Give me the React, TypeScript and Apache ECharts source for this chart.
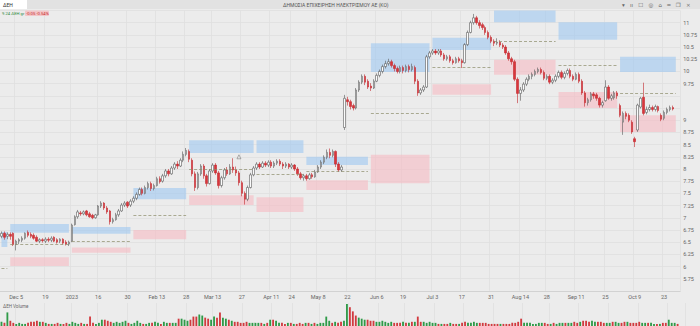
import React, { useEffect, useRef } from "react";
import * as echarts from "echarts";

// ---------- categories (Athens trading days) ----------
const firstDay = "2022-11-28";
const dayCount = 232;
const holidays = ["2022-12-26", "2023-01-06", "2023-02-27", "2023-04-10", "2023-04-14", "2023-04-17", "2023-05-01", "2023-06-05", "2023-08-15"];

function buildDates(): string[] {
  const out: string[] = [];
  const d = new Date(firstDay + "T00:00:00Z");
  while (out.length < dayCount) {
    const s = d.toISOString().slice(0, 10);
    const wd = d.getUTCDay();
    if (wd !== 0 && wd !== 6 && holidays.indexOf(s) < 0) out.push(s);
    d.setUTCDate(d.getUTCDate() + 1);
  }
  return out;
}
const dates = buildDates();

const tickDates = ["2022-12-05", "2022-12-19", "2023-01-02", "2023-01-16", "2023-01-30", "2023-02-13", "2023-02-28", "2023-03-13", "2023-03-27", "2023-04-11", "2023-04-24", "2023-05-08", "2023-05-22", "2023-06-06", "2023-06-19", "2023-07-03", "2023-07-17", "2023-07-31", "2023-08-14", "2023-08-28", "2023-09-11", "2023-09-25", "2023-10-09", "2023-10-23"];
const tickLabels = ["Dec 5", "19", "2023", "16", "30", "Feb 13", "28", "Mar 13", "27", "Apr 11", "24", "May 8", "22", "Jun 6", "19", "Jul 3", "17", "31", "Aug 14", "28", "Sep 11", "25", "Oct 9", "23"];

// ---------- prices: [open, close, low, high] ----------
const ohlc: number[][] = [
  [6.62, 6.68, 6.58, 6.72], [6.68, 6.6, 6.55, 6.72], [6.62, 6.66, 6.56, 6.7], [6.66, 6.62, 6.55, 6.7], [6.68, 6.45, 6.42, 6.7],
  [6.45, 6.52, 6.33, 6.55], [6.52, 6.55, 6.46, 6.58], [6.54, 6.58, 6.5, 6.62], [6.58, 6.68, 6.55, 6.7], [6.7, 6.64, 6.6, 6.74],
  [6.66, 6.62, 6.58, 6.7], [6.64, 6.58, 6.55, 6.68], [6.6, 6.52, 6.5, 6.64], [6.52, 6.55, 6.48, 6.58], [6.55, 6.53, 6.49, 6.58],
  [6.52, 6.56, 6.48, 6.6], [6.56, 6.54, 6.5, 6.6], [6.54, 6.58, 6.5, 6.62], [6.6, 6.52, 6.5, 6.62], [6.55, 6.5, 6.47, 6.58],
  [6.52, 6.56, 6.48, 6.58], [6.56, 6.48, 6.45, 6.58], [6.5, 6.46, 6.43, 6.54], [6.46, 6.5, 6.42, 6.53],
  [6.52, 6.85, 6.5, 6.88], [6.86, 7.02, 6.84, 7.05], [7.02, 7.12, 6.98, 7.16], [7.1, 7.08, 7.04, 7.14], [7.08, 7.12, 7.05, 7.15],
  [7.14, 7.06, 7.03, 7.16], [7.08, 7.02, 7.0, 7.12], [7.05, 7.0, 6.97, 7.08], [7.0, 7.06, 6.98, 7.08], [7.06, 7.24, 7.04, 7.26],
  [7.24, 7.3, 7.2, 7.34], [7.3, 7.2, 7.16, 7.32], [7.2, 7.12, 7.08, 7.24], [7.14, 6.92, 6.86, 7.16], [6.92, 6.96, 6.88, 7.0],
  [6.96, 7.06, 6.94, 7.1], [7.06, 7.14, 7.02, 7.18], [7.14, 7.26, 7.12, 7.3], [7.26, 7.3, 7.22, 7.34], [7.32, 7.24, 7.2, 7.34],
  [7.26, 7.34, 7.22, 7.38], [7.34, 7.4, 7.3, 7.44],
  [7.4, 7.48, 7.36, 7.52], [7.48, 7.58, 7.45, 7.62], [7.58, 7.5, 7.46, 7.62], [7.5, 7.62, 7.48, 7.66], [7.62, 7.7, 7.58, 7.74],
  [7.7, 7.6, 7.55, 7.74], [7.6, 7.66, 7.56, 7.7], [7.66, 7.8, 7.64, 7.84], [7.8, 7.74, 7.7, 7.85], [7.75, 7.86, 7.72, 7.9],
  [7.86, 7.96, 7.82, 8.0], [7.96, 7.9, 7.85, 8.0], [7.9, 8.02, 7.88, 8.06], [8.02, 8.1, 7.98, 8.14], [8.1, 8.06, 8.0, 8.16],
  [8.06, 8.18, 8.04, 8.22], [8.18, 8.3, 8.14, 8.36], [8.3, 8.38, 8.26, 8.43],
  [8.36, 8.2, 8.14, 8.4], [8.18, 7.9, 7.85, 8.22], [7.9, 7.62, 7.55, 7.95], [7.62, 7.9, 7.58, 7.94], [7.9, 8.06, 7.86, 8.1],
  [8.06, 7.86, 7.8, 8.1], [7.86, 7.7, 7.64, 7.9], [7.7, 7.96, 7.68, 8.0], [7.96, 8.08, 7.92, 8.12], [8.08, 7.92, 7.88, 8.12],
  [7.92, 7.66, 7.6, 7.96], [7.66, 7.82, 7.62, 7.86], [7.82, 7.98, 7.78, 8.02], [7.98, 7.9, 7.86, 8.04], [7.9, 8.04, 7.88, 8.1],
  [8.04, 7.98, 7.92, 8.22], [7.98, 7.92, 7.86, 8.05], [7.92, 7.72, 7.66, 7.96], [7.72, 7.5, 7.44, 7.76], [7.5, 7.38, 7.27, 7.54],
  [7.38, 7.62, 7.34, 7.66], [7.62, 7.88, 7.6, 7.92], [7.88, 8.02, 7.85, 8.06],
  [8.02, 8.1, 7.98, 8.14], [8.1, 8.04, 8.0, 8.14], [8.04, 8.12, 8.02, 8.16], [8.12, 8.08, 8.04, 8.16], [8.08, 8.14, 8.04, 8.18],
  [8.14, 8.06, 8.02, 8.18], [8.06, 8.12, 8.02, 8.16], [8.12, 8.16, 8.08, 8.2], [8.16, 8.1, 8.06, 8.2], [8.1, 8.06, 8.0, 8.14],
  [8.06, 8.1, 8.02, 8.14], [8.1, 8.04, 8.0, 8.12], [8.04, 8.08, 8.0, 8.12], [8.08, 8.0, 7.96, 8.1], [8.0, 7.9, 7.86, 8.04],
  [7.9, 7.82, 7.78, 7.94], [7.82, 7.86, 7.76, 7.9],
  [7.86, 7.8, 7.76, 7.9], [7.8, 7.88, 7.78, 7.92], [7.88, 7.84, 7.8, 7.92], [7.84, 7.94, 7.82, 7.98], [7.94, 8.04, 7.92, 8.08],
  [8.04, 8.14, 8.0, 8.18], [8.14, 8.24, 8.1, 8.28], [8.24, 8.34, 8.2, 8.4], [8.34, 8.28, 8.22, 8.42], [8.28, 8.36, 8.24, 8.4],
  [8.36, 8.1, 8.04, 8.38], [8.1, 7.98, 7.94, 8.14], [7.98, 8.04, 7.94, 8.08], [8.85, 9.45, 8.8, 9.52], [9.42, 9.38, 9.3, 9.48],
  [9.38, 9.28, 9.22, 9.42], [9.3, 9.25, 9.2, 9.34], [9.25, 9.62, 9.22, 9.66], [9.62, 9.78, 9.58, 9.82], [9.78, 9.9, 9.74, 9.94],
  [9.9, 9.78, 9.72, 9.94], [9.8, 9.68, 9.64, 9.84],
  [9.7, 9.66, 9.6, 9.76], [9.66, 9.8, 9.64, 9.84], [9.8, 9.92, 9.78, 9.96], [9.92, 10.0, 9.88, 10.04], [10.0, 10.1, 9.96, 10.14],
  [10.1, 10.16, 10.06, 10.22], [10.16, 10.2, 10.12, 10.26], [10.2, 10.12, 10.08, 10.24], [10.12, 10.06, 10.0, 10.16], [10.06, 10.0, 9.96, 10.1],
  [10.0, 10.08, 9.96, 10.12], [10.08, 10.02, 9.96, 10.12], [10.02, 10.1, 9.98, 10.14], [10.1, 10.04, 9.98, 10.14], [10.04, 10.1, 10.0, 10.16],
  [10.08, 9.8, 9.74, 10.12], [9.8, 9.56, 9.5, 9.84], [9.56, 9.62, 9.52, 9.66], [9.62, 9.68, 9.58, 9.72], [9.68, 10.3, 9.66, 10.34],
  [10.3, 10.38, 10.26, 10.42],
  [10.38, 10.42, 10.34, 10.46], [10.42, 10.38, 10.34, 10.46], [10.38, 10.42, 10.34, 10.46], [10.42, 10.34, 10.3, 10.46], [10.34, 10.26, 10.22, 10.38],
  [10.26, 10.3, 10.22, 10.34], [10.3, 10.22, 10.18, 10.34], [10.22, 10.18, 10.14, 10.26], [10.18, 10.26, 10.16, 10.3], [10.26, 10.22, 10.18, 10.3],
  [10.22, 10.18, 10.07, 10.26], [10.18, 10.55, 10.16, 10.58], [10.55, 10.8, 10.52, 10.84], [10.8, 11.0, 10.78, 11.04], [11.0, 11.1, 10.96, 11.18],
  [11.1, 11.0, 10.96, 11.14], [11.0, 10.94, 10.88, 11.05], [10.96, 10.9, 10.85, 11.0], [10.9, 10.8, 10.75, 10.94], [10.8, 10.7, 10.66, 10.84],
  [10.7, 10.62, 10.58, 10.74], [10.62, 10.58, 10.52, 10.66],
  [10.58, 10.6, 10.54, 10.68], [10.6, 10.54, 10.5, 10.64], [10.54, 10.5, 10.46, 10.58], [10.5, 10.38, 10.34, 10.54], [10.38, 10.26, 10.22, 10.42],
  [10.26, 10.2, 10.14, 10.3], [10.2, 9.84, 9.8, 10.24], [9.84, 9.55, 9.35, 9.88], [9.55, 9.62, 9.4, 9.68], [9.62, 9.74, 9.58, 9.78],
  [9.74, 9.84, 9.7, 9.88], [9.84, 9.9, 9.8, 9.94], [9.9, 9.94, 9.84, 9.98], [9.94, 10.0, 9.9, 10.04], [10.0, 10.04, 9.96, 10.08],
  [10.04, 9.98, 9.94, 10.08], [9.98, 9.86, 9.82, 10.02], [9.86, 9.9, 9.82, 9.94], [9.9, 9.78, 9.74, 9.94], [9.78, 9.82, 9.74, 9.86],
  [9.82, 9.9, 9.78, 9.94], [9.9, 9.98, 9.86, 10.02], [9.98, 9.88, 9.84, 10.02], [9.88, 9.96, 9.84, 10.0], [9.96, 10.02, 9.92, 10.06],
  [10.02, 9.9, 9.86, 10.06], [9.9, 9.84, 9.8, 9.94], [9.84, 9.94, 9.82, 9.98], [9.94, 9.8, 9.76, 9.98], [9.8, 9.56, 9.52, 9.84],
  [9.56, 9.36, 9.28, 9.6], [9.36, 9.42, 9.3, 9.46], [9.42, 9.54, 9.38, 9.58], [9.54, 9.5, 9.44, 9.58], [9.52, 9.45, 9.4, 9.56],
  [9.45, 9.31, 9.26, 9.48], [9.31, 9.36, 9.26, 9.4], [9.4, 9.68, 9.38, 9.82], [9.68, 9.45, 9.42, 9.72], [9.45, 9.5, 9.4, 9.54],
  [9.46, 9.56, 9.42, 9.6], [9.56, 9.5, 9.44, 9.6],
  [9.3, 9.1, 9.06, 9.34], [8.96, 9.14, 8.7, 9.18], [9.14, 9.08, 9.02, 9.18], [9.1, 9.0, 8.96, 9.14], [8.96, 8.76, 8.72, 9.0],
  [8.62, 8.56, 8.45, 8.66], [8.8, 9.31, 8.76, 9.34], [9.27, 9.45, 9.24, 9.48], [9.47, 9.14, 9.1, 9.77], [9.16, 9.22, 9.12, 9.28],
  [9.22, 9.26, 9.18, 9.32], [9.26, 9.22, 9.18, 9.3], [9.22, 9.28, 9.18, 9.32], [9.28, 9.2, 9.16, 9.3], [9.1, 9.02, 8.98, 9.14],
  [9.04, 9.16, 9.0, 9.2], [9.16, 9.22, 9.12, 9.26], [9.22, 9.26, 9.18, 9.3], [9.26, 9.23, 9.2, 9.3],
];

// volume, thousands of shares
const volumes = [
  400, 300, 1300, 500, 300, 200, 300, 200, 200, 300, 400, 400, 500, 400, 400, 300, 200, 200, 200, 300, 200, 200, 300, 200,
  400, 300, 200, 300, 200, 200, 900, 300, 200, 300, 600, 600, 500, 400, 300, 400, 300, 400, 500, 300, 200, 300,
  500, 300, 200, 200, 300, 300, 400, 300, 200, 400, 300, 300, 300, 300, 700, 700, 600, 500,
  600, 900, 900, 1100, 1000, 800, 700, 600, 900, 800, 1300, 800, 700, 600, 500, 400, 400, 300, 300, 400, 300, 300, 300,
  300, 300, 200, 300, 600, 600, 500, 300, 300, 200, 300, 300, 200, 200, 300, 200, 300,
  300, 200, 300, 200, 300, 300, 900, 500, 300, 400, 300, 400, 500, 2100, 1800, 1400, 1000, 800, 700, 600, 600, 500,
  500, 400, 400, 500, 400, 300, 400, 300, 300, 300, 400, 300, 300, 400, 400, 900, 400, 400, 300, 400, 300,
  300, 200, 200, 200, 200, 300, 200, 200, 200, 300, 400, 300, 300, 400, 300, 300, 300, 300, 200, 200, 200, 200,
  200, 200, 200, 200, 300, 300, 400, 700, 300, 300, 300, 200, 200, 300, 300, 300, 200, 200, 300, 200,
  300, 300, 300, 300, 300, 400, 300, 400, 500, 500, 400, 500, 400, 400, 400, 300, 300, 300, 400, 400, 300, 300,
  400, 400, 300, 300, 300, 400, 300, 300, 300, 300, 200, 200, 200, 300, 300, 600, 300, 300, 200,
];

// ---------- monthly pivot zones ----------
const zoneStart = ["2022-11-28", "2022-12-01", "2023-01-02", "2023-02-01", "2023-03-01", "2023-04-03", "2023-05-02", "2023-06-01", "2023-07-03", "2023-08-01", "2023-09-01", "2023-10-02"];
const zoneEnd = ["2022-11-30", "2022-12-30", "2023-01-31", "2023-02-28", "2023-03-31", "2023-04-28", "2023-05-31", "2023-06-30", "2023-07-31", "2023-08-31", "2023-09-29", "2023-10-27"];
const resistTop = [6.71, 6.87, 6.81, 7.61, 8.59, 8.59, 8.25, 10.58, 10.69, 11.26, 11.01, 10.3];
const resistBottom = [6.4, 6.69, 6.67, 7.38, 8.33, 8.33, 8.08, 9.99, 10.44, 11.01, 10.65, 9.99];
const supportTop = [NaN, 6.19, 6.39, 6.75, 7.46, 7.42, 7.77, 8.29, 9.74, 10.24, 9.58, 9.1];
const supportBottom = [NaN, 6.01, 6.28, 6.56, 7.26, 7.12, 7.57, 7.71, 9.52, 9.93, 9.25, 8.76];
const pivotLevel = [5.97, 6.46, 6.52, 7.06, 8.0, 7.89, 7.95, 9.15, 10.09, 10.62, 10.13, 9.56];

const signalDate = "2023-03-24";
const signalPrice = 8.25;
const pivotTag = 9.56;
// axis labels hidden under the price tags
const coveredTicks = [9.5, 9.25];

const UP = "#fbfbfb";
const UP_BORDER = "#5b5b5b";
const DOWN = "#d9363c";
const DOWN_BORDER = "#c2262c";
const FONT = "Roboto, 'Liberation Sans', sans-serif";

export default function App() {
  const ref = useRef<HTMLDivElement>(null);

  useEffect(() => {
    if (!ref.current) return;
    const chart = echarts.init(ref.current, undefined, { renderer: "svg" });

    const tickIdx = new Set(tickDates.map((d) => dates.indexOf(d)));
    const labelMap: Record<string, string> = {};
    tickDates.forEach((d, i) => (labelMap[d] = tickLabels[i]));

    const candleData = ohlc.map((c) => [c[0], c[1], c[2], c[3]]);
    const volData = volumes.map((v, i) => ({
      value: v,
      itemStyle: { color: ohlc[i][1] >= ohlc[i][0] ? "#2f9a48" : "#d23a3f" },
    }));

    const areas: any[] = [];
    zoneStart.forEach((s, i) => {
      areas.push([
        { xAxis: s, yAxis: resistTop[i], itemStyle: { color: "rgba(160,200,240,0.62)" } },
        { xAxis: zoneEnd[i], yAxis: resistBottom[i] },
      ]);
      if (!isNaN(supportTop[i])) {
        areas.push([
          { xAxis: s, yAxis: supportTop[i], itemStyle: { color: "rgba(246,188,196,0.62)" } },
          { xAxis: zoneEnd[i], yAxis: supportBottom[i] },
        ]);
      }
    });
    const pivots = zoneStart.map((s, i) => [
      { xAxis: s, yAxis: pivotLevel[i] },
      { xAxis: zoneEnd[i], yAxis: pivotLevel[i] },
    ]);

    const lastClose = ohlc[ohlc.length - 1][1];
    const lastVol = volumes[volumes.length - 1];

    const option: any = {
      animation: false,
      backgroundColor: "#ececec",
      textStyle: { fontFamily: FONT },
      grid: [
        { left: 0, right: 15, top: 10.5, height: 280.4 },
        { left: 0, right: 15, top: 303, height: 23 },
      ],
      xAxis: [
        {
          type: "category",
          gridIndex: 0,
          data: dates,
          boundaryGap: true,
          axisLine: { show: true, lineStyle: { color: "#d2d2d2" } },
          axisTick: { show: false },
          axisLabel: {
            interval: (idx: number) => tickIdx.has(idx),
            formatter: (v: string) => labelMap[v] || "",
            fontSize: 5.5,
            color: "#666",
            margin: 3,
            fontFamily: FONT,
          },
          splitLine: {
            show: true,
            interval: (idx: number) => tickIdx.has(idx),
            lineStyle: { color: "#e0e0e0", width: 0.8 },
          },
        },
        {
          type: "category",
          gridIndex: 1,
          data: dates,
          boundaryGap: true,
          axisLine: { show: false },
          axisTick: { show: false },
          axisLabel: { show: false },
          splitLine: {
            show: true,
            interval: (idx: number) => tickIdx.has(idx),
            lineStyle: { color: "#e0e0e0", width: 0.8 },
          },
        },
      ],
      yAxis: [
        {
          type: "value",
          gridIndex: 0,
          position: "right",
          min: 5.5,
          max: 11.25,
          interval: 0.25,
          axisLine: { show: false },
          axisTick: { show: false },
          axisLabel: {
            formatter: (v: number) =>
              v <= 5.5 || v >= 11.25 || coveredTicks.indexOf(v) >= 0 ? "" : String(v),
            fontSize: 5.5,
            color: "#666",
            margin: 3,
            align: "left",
            fontFamily: FONT,
          },
          splitLine: { show: true, lineStyle: { color: "#e0e0e0", width: 0.8 } },
        },
        {
          type: "value",
          gridIndex: 1,
          position: "right",
          min: 0,
          max: 2200,
          axisLine: { show: false },
          axisTick: { show: false },
          axisLabel: { show: false },
          splitLine: { show: false },
        },
      ],
      series: [
        {
          type: "line",
          xAxisIndex: 0,
          yAxisIndex: 0,
          data: [],
          z: 1,
          silent: true,
          markArea: { silent: true, data: areas },
          markLine: {
            silent: true,
            symbol: ["none", "none"],
            label: { show: false },
            lineStyle: { type: [3, 2], color: "#8d8d6a", width: 0.7 },
            data: pivots,
          },
        },
        {
          type: "candlestick",
          xAxisIndex: 0,
          yAxisIndex: 0,
          data: candleData,
          barWidth: "68%",
          z: 3,
          itemStyle: {
            color: UP,
            color0: DOWN,
            borderColor: UP_BORDER,
            borderColor0: DOWN_BORDER,
            borderWidth: 0.6,
          },
          markLine: {
            silent: true,
            symbol: ["none", "none"],
            data: [
              {
                yAxis: pivotTag,
                lineStyle: { opacity: 0 },
                label: {
                  show: true,
                  position: "end",
                  distance: 2,
                  formatter: pivotTag.toFixed(2),
                  fontSize: 5,
                  color: "#333",
                  backgroundColor: "#e8d48e",
                  borderColor: "#9c8532",
                  borderWidth: 0.6,
                  padding: [1, 2],
                  borderRadius: 1,
                },
              },
              {
                yAxis: lastClose,
                lineStyle: { opacity: 0 },
                label: {
                  show: true,
                  position: "end",
                  distance: 2,
                  formatter: lastClose.toFixed(2),
                  fontSize: 5,
                  color: "#fff",
                  backgroundColor: "#2f9a48",
                  padding: [1, 2],
                  borderRadius: 1,
                },
              },
            ],
          },
        },
        {
          type: "scatter",
          xAxisIndex: 0,
          yAxisIndex: 0,
          data: [[signalDate, signalPrice]],
          symbol: "triangle",
          symbolSize: 4,
          z: 4,
          itemStyle: { color: "rgba(0,0,0,0)", borderColor: "#666", borderWidth: 0.6 },
        },
        {
          type: "bar",
          xAxisIndex: 1,
          yAxisIndex: 1,
          data: volData,
          barWidth: "62%",
          markLine: {
            silent: true,
            symbol: ["none", "none"],
            data: [
              {
                yAxis: lastVol,
                lineStyle: { opacity: 0 },
                label: {
                  show: true,
                  position: "end",
                  distance: 2,
                  formatter: "182K",
                  fontSize: 4.5,
                  color: "#fff",
                  backgroundColor: "#2f9a48",
                  padding: [1, 2],
                },
              },
            ],
          },
        },
      ],
      graphic: [
        { type: "rect", left: 0, top: 0, shape: { width: 700, height: 9 }, style: { fill: "#e2e2e2" }, z: 10 },
        { type: "rect", left: 0, top: 0, shape: { width: 27, height: 9 }, style: { fill: "#ffffff" }, z: 11 },
        { type: "text", left: 3, top: 2, style: { text: "ΔΕΗ", fontSize: 5, fill: "#333", fontFamily: FONT }, z: 12 },
        {
          type: "text",
          left: 283,
          top: 2,
          style: { text: "ΔΗΜΟΣΙΑ ΕΠΙΧΕΙΡΗΣΗ ΗΛΕΚΤΡΙΣΜΟΥ ΑΕ (ΚΟ)", fontSize: 5, fill: "#555", fontFamily: FONT },
          z: 12,
        },
        {
          type: "text",
          left: 622,
          top: 1.5,
          style: { text: "▾   ıı   ☐   ◎   ⌂   ═   ❐   ×", fontSize: 5.5, fill: "#666", fontFamily: "DejaVu Sans" },
          z: 12,
        },
        { type: "text", left: 2, top: 11, style: { text: "9.24 ΔΕΗ gr", fontSize: 4.2, fill: "#2e8b3e", fontFamily: FONT }, z: 12 },
        { type: "rect", left: 25, top: 10.5, shape: { width: 24, height: 5.5, r: 1 }, style: { fill: "#f3c6c8" }, z: 11 },
        { type: "text", left: 26, top: 11, style: { text: "-0.05 -0.54%", fontSize: 4.2, fill: "#c62828", fontFamily: FONT }, z: 12 },
        { type: "text", left: 3, top: 303.5, style: { text: "ΔΕΗ Volume", fontSize: 4.5, fill: "#666", fontFamily: FONT }, z: 12 },
      ],
    };

    chart.setOption(option);
    return () => chart.dispose();
  }, []);

  return (
    <div
      ref={ref}
      style={{ position: "fixed", left: 0, top: 0, width: 700, height: 326, background: "#ececec" }}
    />
  );
}
